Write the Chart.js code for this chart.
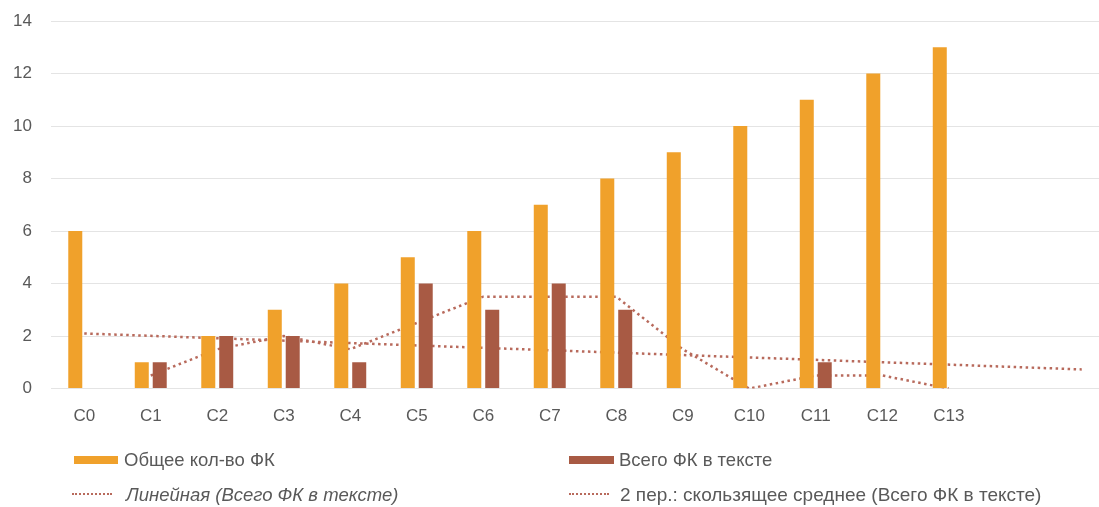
<!DOCTYPE html>
<html>
<head>
<meta charset="utf-8">
<script src="https://cdn.jsdelivr.net/npm/chart.js@4"></script>
<style>
  html, body { margin: 0; padding: 0; background: #fff; overflow: hidden; }
  #wrap { position: relative; width: 1115px; height: 507px; }
  .leg { position: absolute; font-family: "Liberation Sans", Arial, sans-serif; font-size: 18.5px; color: #595959; white-space: nowrap; line-height: 22px; }
  .sw { position: absolute; }
</style>
</head>
<body>
<div id="wrap">
  <canvas id="myChart"></canvas>
  <div class="sw" style="left:74px;top:456px;width:44px;height:8px;background:#F0A12B"></div>
  <div class="leg" style="left:124px;top:449px">Общее кол-во ФК</div>
  <div class="sw" style="left:569px;top:456px;width:45px;height:8px;background:#A85A44"></div>
  <div class="leg" style="left:619px;top:449px">Всего ФК в тексте</div>
  <div class="sw" style="left:72px;top:493px;width:40px;height:0;border-top:2.5px dotted #B86A5C"></div>
  <div class="leg" style="left:126px;top:484px;font-style:italic">Линейная (Всего ФК в тексте)</div>
  <div class="sw" style="left:569px;top:493px;width:40px;height:0;border-top:2.5px dotted #B86A5C"></div>
  <div class="leg" style="left:620px;top:484px;font-size:19px">2 пер.: скользящее среднее (Всего ФК в тексте)</div>
</div>
<script>
document.addEventListener('DOMContentLoaded', function () {
    const categories = ['C0', 'C1', 'C2', 'C3', 'C4', 'C5', 'C6', 'C7', 'C8', 'C9', 'C10', 'C11', 'C12', 'C13', '', ''];
    const totalFK = [6, 1, 2, 3, 4, 5, 6, 7, 8, 9, 10, 11, 12, 13];           // Общее кол-во ФК
    const textFK = [0, 1, 2, 2, 1, 4, 3, 4, 3, 0, 0, 1, 0, 0];                // Всего ФК в тексте
    const movingAvg = [null, 0.5, 1.5, 2, 1.5, 2.5, 3.5, 3.5, 3.5, 1.5, 0, 0.5, 0.5, 0];
    const linearTrend = [2.1, null, null, null, null, null, null, null, null, null, null, null, null, null, null, 0.73];
    const yTicks = [0, 2, 4, 6, 8, 10, 12, 14];

    const lineColor = '#B86A5C';
    const ctx = document.getElementById('myChart').getContext('2d');
    new Chart(ctx, {
        data: {
            labels: categories,
            datasets: [
                {
                    type: 'bar',
                    label: 'Общее кол-во ФК',
                    data: totalFK,
                    backgroundColor: '#F0A12B',
                    categoryPercentage: 0.54,
                    barPercentage: 0.78,
                    order: 1
                },
                {
                    type: 'bar',
                    label: 'Всего ФК в тексте',
                    data: textFK,
                    backgroundColor: '#A85A44',
                    categoryPercentage: 0.54,
                    barPercentage: 0.78,
                    order: 1
                },
                {
                    type: 'line',
                    label: 'Линейная (Всего ФК в тексте)',
                    data: linearTrend,
                    borderColor: lineColor,
                    borderWidth: 2.5,
                    borderDash: [2.5, 3.5],
                    pointRadius: 0,
                    spanGaps: true,
                    order: 2
                },
                {
                    type: 'line',
                    label: '2 пер.: скользящее среднее (Всего ФК в тексте)',
                    data: movingAvg,
                    borderColor: lineColor,
                    borderWidth: 2.5,
                    borderDash: [2.5, 3.5],
                    pointRadius: 0,
                    order: 2
                }
            ]
        },
        options: {
            responsive: true,
            maintainAspectRatio: false,
            animation: false,
            layout: { padding: { left: 0, right: 0, top: 21, bottom: 70 } },
            plugins: {
                legend: { display: false },
                tooltip: { enabled: false }
            },
            scales: {
                x: {
                    offset: true,
                    grid: { display: false },
                    border: { display: false },
                    ticks: {
                        color: '#595959',
                        font: { family: 'Liberation Sans', size: 17 },
                        padding: 10,
                        maxRotation: 0,
                        autoSkip: false
                    }
                },
                y: {
                    min: 0,
                    max: 14,
                    afterBuildTicks: function (axis) {
                        axis.ticks = yTicks.map(function (v) { return { value: v }; });
                    },
                    afterFit: function (axis) {
                        axis.width = 51;
                        // tick padding is only meant to push labels left, not down
                        axis.paddingTop = 0;
                        axis.paddingBottom = 0;
                    },
                    grid: { color: '#E4E4E4', drawTicks: false },
                    border: { display: false },
                    ticks: {
                        color: '#595959',
                        font: { family: 'Liberation Sans', size: 17 },
                        padding: 19
                    }
                }
            }
        }
    });
});
</script>
</body>
</html>
